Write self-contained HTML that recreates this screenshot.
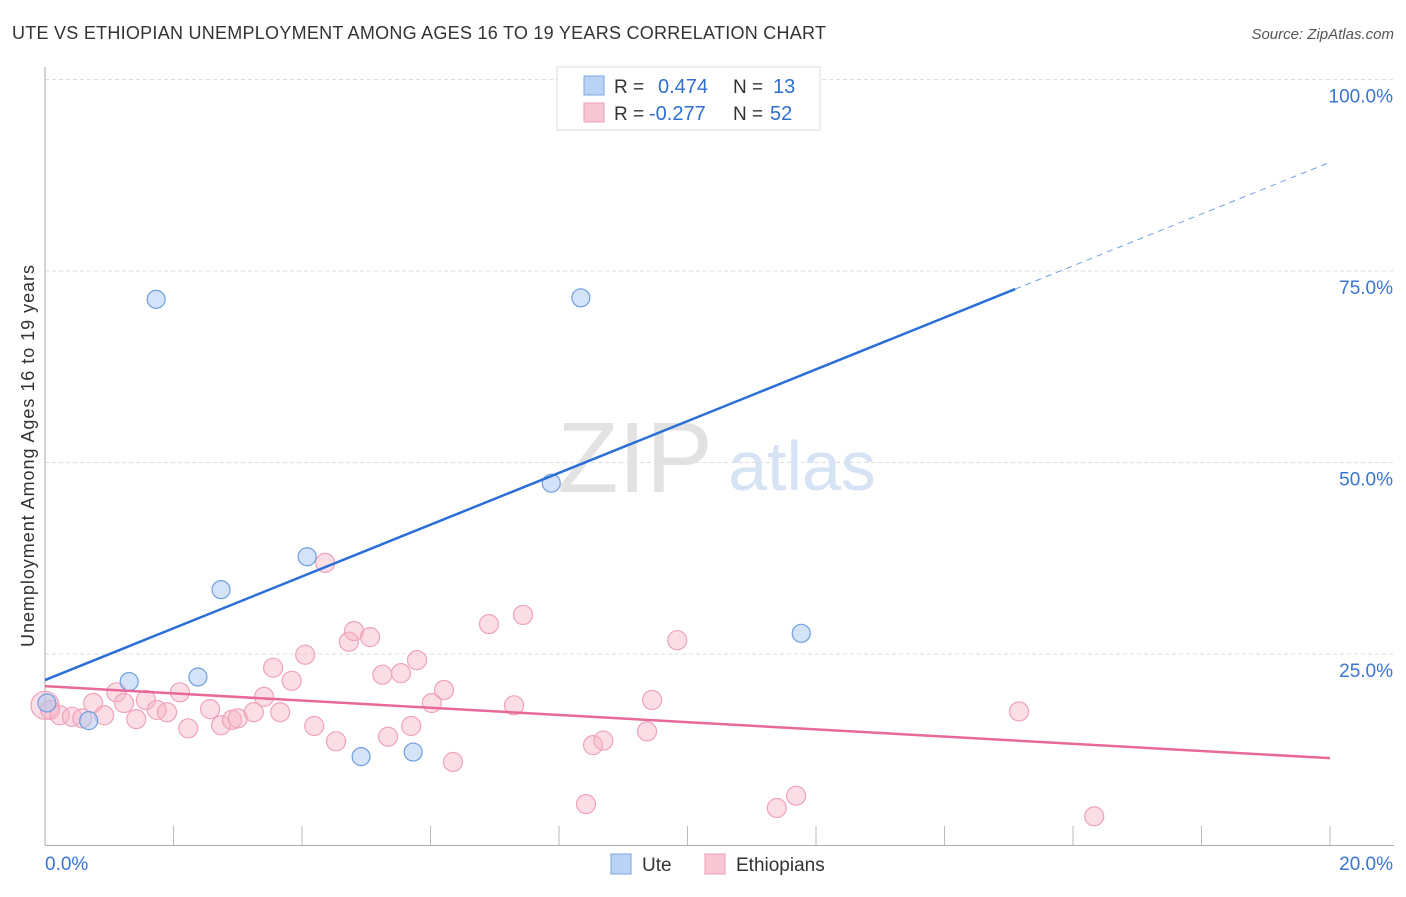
<!DOCTYPE html>
<html><head><meta charset="utf-8"><style>
body{margin:0;background:#fff;font-family:"Liberation Sans",sans-serif;}
svg text{font-family:"Liberation Sans",sans-serif;}
</style></head><body>
<svg width="1406" height="892" id="chart">
<text x="12" y="39" font-size="18" fill="#333" textLength="814">UTE VS ETHIOPIAN UNEMPLOYMENT AMONG AGES 16 TO 19 YEARS CORRELATION CHART</text>
<text x="1394" y="39" font-size="15" fill="#555" font-style="italic" text-anchor="end">Source: ZipAtlas.com</text>
<text x="0" y="0" font-size="18" fill="#333" transform="translate(34,456) rotate(-90)" text-anchor="middle" textLength="382">Unemployment Among Ages 16 to 19 years</text>
<g id="grid"></g>
<text x="635" y="492" font-size="100" fill="#e2e2e2" font-family="Liberation Serif" text-anchor="middle">ZIP</text>
<text x="802" y="490" font-size="70" fill="#d5e3f5" text-anchor="middle">atlas</text>
<g id="marks"></g>
<g>
<rect x="557" y="67" width="263" height="63" fill="#fff" stroke="#ddd"/>
<rect x="584" y="76" width="20" height="19" fill="#b8d3f3" stroke="#7aa6e0"/>
<rect x="584" y="103" width="20" height="19" fill="#f8c6d4" stroke="#eaa0b6"/>
<text x="614" y="93" font-size="19" fill="#333">R =</text><text x="658" y="93" font-size="20" fill="#2f6fd0">0.474</text>
<text x="733" y="93" font-size="19" fill="#333">N =</text><text x="773" y="93" font-size="20" fill="#2f6fd0">13</text>
<text x="614" y="120" font-size="19" fill="#333">R =</text><text x="649" y="120" font-size="20" fill="#2f6fd0">-0.277</text>
<text x="733" y="120" font-size="19" fill="#333">N =</text><text x="770" y="120" font-size="20" fill="#2f6fd0">52</text>
</g>
<g>
<rect x="611" y="854" width="20" height="20" fill="#b8d3f3" stroke="#7aa6e0"/>
<text x="642" y="871" font-size="19" fill="#333">Ute</text>
<rect x="705" y="854" width="20" height="20" fill="#f8c6d4" stroke="#eaa0b6"/>
<text x="736" y="871" font-size="19" fill="#333">Ethiopians</text>
</g>
</svg>
<script>
const yTicks=[25,50,75,100];
const yTickLabels=["25.0%","50.0%","75.0%","100.0%"];
const xTickLabels=["0.0%","20.0%"];
const uteX=[0.03,1.73,1.31,0.68,2.38,2.74,4.08,4.92,5.73,7.88,8.34,10.74,11.77];
const uteY=[18.6,71.3,21.4,16.3,22.0,33.4,37.7,11.6,12.2,47.3,71.5,100,27.7];
const ethX=[0.0,0.08,0.23,0.42,0.58,0.75,0.92,1.11,1.23,1.42,1.57,1.74,1.90,2.10,2.23,2.57,2.74,2.91,3.00,3.25,3.41,3.55,3.66,3.84,4.05,4.19,4.36,4.53,4.73,4.81,5.06,5.25,5.34,5.54,5.70,5.79,6.02,6.21,6.35,6.91,7.30,7.44,8.42,8.53,8.69,9.37,9.45,9.84,11.39,11.69,15.16,16.33];
const ethY=[18.3,17.7,17.0,16.8,16.6,18.6,17.0,20.0,18.6,16.5,19.0,17.7,17.4,20.0,15.3,17.8,15.7,16.4,16.6,17.4,19.4,23.2,17.4,21.5,24.9,15.6,36.9,13.6,26.6,28.0,27.2,22.3,14.2,22.5,15.6,24.2,18.6,20.3,10.9,28.9,18.3,30.1,5.4,13.1,13.7,14.9,19.0,26.8,4.9,6.5,17.5,3.8];
const uteLine=[21.6,89.2];
const ethLine=[20.8,11.4];
const NS="http://www.w3.org/2000/svg";
const X=v=>45+v*64.25, Y=v=>845.5-v*7.66;
function mk(t,a,p){const e=document.createElementNS(NS,t);for(const k in a)e.setAttribute(k,a[k]);p.appendChild(e);return e;}
const g=document.getElementById('grid'), m=document.getElementById('marks');
yTicks.forEach((t,i)=>{
 const l=mk('line',{x1:45,x2:1394,y1:Y(t),y2:Y(t),stroke:'#ddd','stroke-dasharray':'4,3'},g);
 
 
 const tx=mk('text',{x:1393,y:Y(t)+23,'font-size':19,fill:'#3a74d4','text-anchor':'end'},g);
 tx.textContent=yTickLabels[i];
 
 
});
const ax=mk('line',{x1:45,x2:1394,y1:845.5,y2:845.5,stroke:'#aaa'},g);


const ay=mk('line',{x1:45,x2:45,y1:67,y2:845.5,stroke:'#aaa'},g);


for(let i=1;i<=10;i++){const t=mk('line',{x1:X(i*2),x2:X(i*2),y1:826,y2:845.5,stroke:'#bbb'},g);
 
 }
[[0,'start',45],[20,'end',1393]].forEach((d,i)=>{const t=mk('text',{x:d[2],y:870,'font-size':19,fill:'#3a74d4','text-anchor':d[1]},g);t.textContent=xTickLabels[i];
 
 });
ethX.forEach((x,i)=>{const c=mk('circle',{cx:X(x),cy:Y(ethY[i]),r:i==0?14:9.5,fill:'rgba(246,180,200,0.45)',stroke:'#eea3ba','stroke-width':1.2},m);
 
 });
uteX.forEach((x,i)=>{const c=mk('circle',{cx:X(x),cy:Y(uteY[i]),r:9,fill:'rgba(170,200,240,0.5)',stroke:'#6f9fe0','stroke-width':1.2},m);
 
 });
const xs=15.1, ys=uteLine[0]+(uteLine[1]-uteLine[0])*xs/20;
const bl=mk('line',{x1:X(0),y1:Y(uteLine[0]),x2:X(xs),y2:Y(ys),stroke:'#2a6fd6','stroke-width':2.5},m);


const bd=mk('line',{x1:X(xs),y1:Y(ys),x2:X(20),y2:Y(uteLine[1]),stroke:'#6f9fe0','stroke-width':1,'stroke-dasharray':'6,5'},m);


const pl=mk('line',{x1:X(0),y1:Y(ethLine[0]),x2:X(20),y2:Y(ethLine[1]),stroke:'#e8689a','stroke-width':2.5},m);


</script>
</body></html>
